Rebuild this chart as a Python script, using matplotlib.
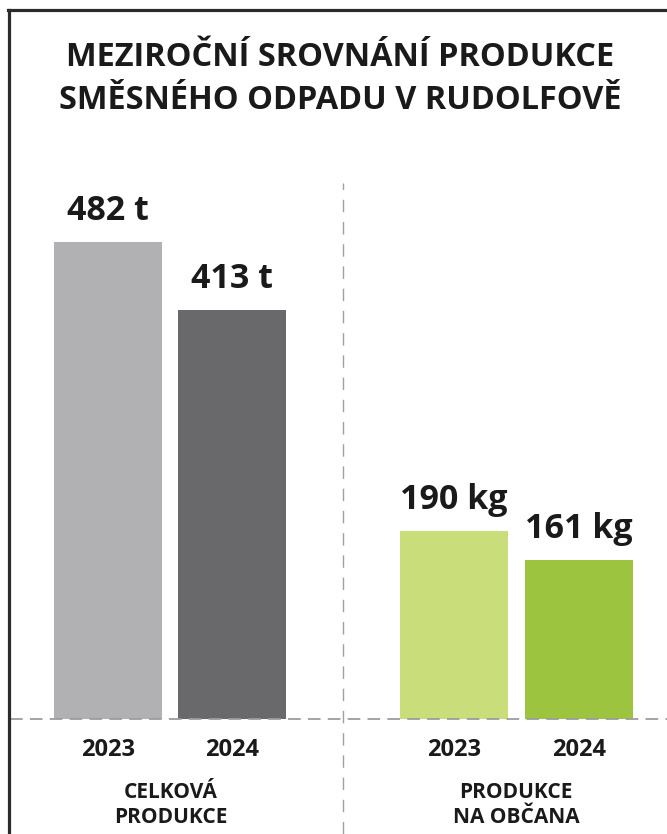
import matplotlib.pyplot as plt
from matplotlib.lines import Line2D

# data
years = ["2023", "2024", "2023", "2024"]
values = [482, 413, 190, 161]
value_labels = ["482 t", "413 t", "190 kg", "161 kg"]
groups = ["CELKOVÁ\nPRODUKCE", "PRODUKCE\nNA OBČANA"]
title = "MEZIROČNÍ SROVNÁNÍ PRODUKCE\nSMĚSNÉHO ODPADU V RUDOLFOVĚ"

colors = ["#b1b1b3", "#69696b", "#c9de7a", "#9dc43e"]
x_pos = [108, 232, 454, 579]
group_x = [171, 516]
px = 0.99  # pixels per unit

plt.rcParams["font.family"] = ["Open Sans", "DejaVu Sans"]

fig = plt.figure(figsize=(6.67, 8.34), dpi=100)
ax = fig.add_axes([0, 0, 1, 1])
ax.set_xlim(0, 667)
ax.set_ylim(-115 / px, 719 / px)
ax.axis("off")

ax.bar(x_pos, values, width=108, color=colors, zorder=2)

# baseline + divider
ax.plot([10, 667], [0, 0], color="#9c9c9c", lw=1.3, ls=(0, (7, 4)), zorder=3)
ax.plot([343, 343], [-115 / px, (719 - 183) / px], color="#a0a0a0", lw=1.0,
        ls=(0, (9, 7)), zorder=1)

for x, v, lab in zip(x_pos, values, value_labels):
    ax.text(x, v + 31 / px, lab, ha="center", va="center", fontsize=24.5,
            fontweight="bold", color="#1a1a1a")

for x, y in zip(x_pos, years):
    ax.text(x, -31 / px, y, ha="center", va="center", fontsize=17,
            fontweight="bold", color="#1a1a1a")

for x, g in zip(group_x, groups):
    ax.text(x, -86 / px, g, ha="center", va="center", fontsize=15,
            fontweight="bold", color="#1a1a1a", linespacing=1.2)

fig.text(0.51, 1 - 79 / 834, title, ha="center", va="center", fontsize=23.4,
         fontweight="bold", color="#1a1a1a", linespacing=1.42)

# frame (left + top)
fig.add_artist(Line2D([8.5 / 667, 8.5 / 667], [0, 1 - 9.5 / 834], color="#2b2b2b", lw=2.3))
fig.add_artist(Line2D([7.5 / 667, 1], [1 - 9.5 / 834, 1 - 9.5 / 834], color="#2b2b2b", lw=2.3))

fig.savefig("out.png", dpi=100, facecolor="white")
